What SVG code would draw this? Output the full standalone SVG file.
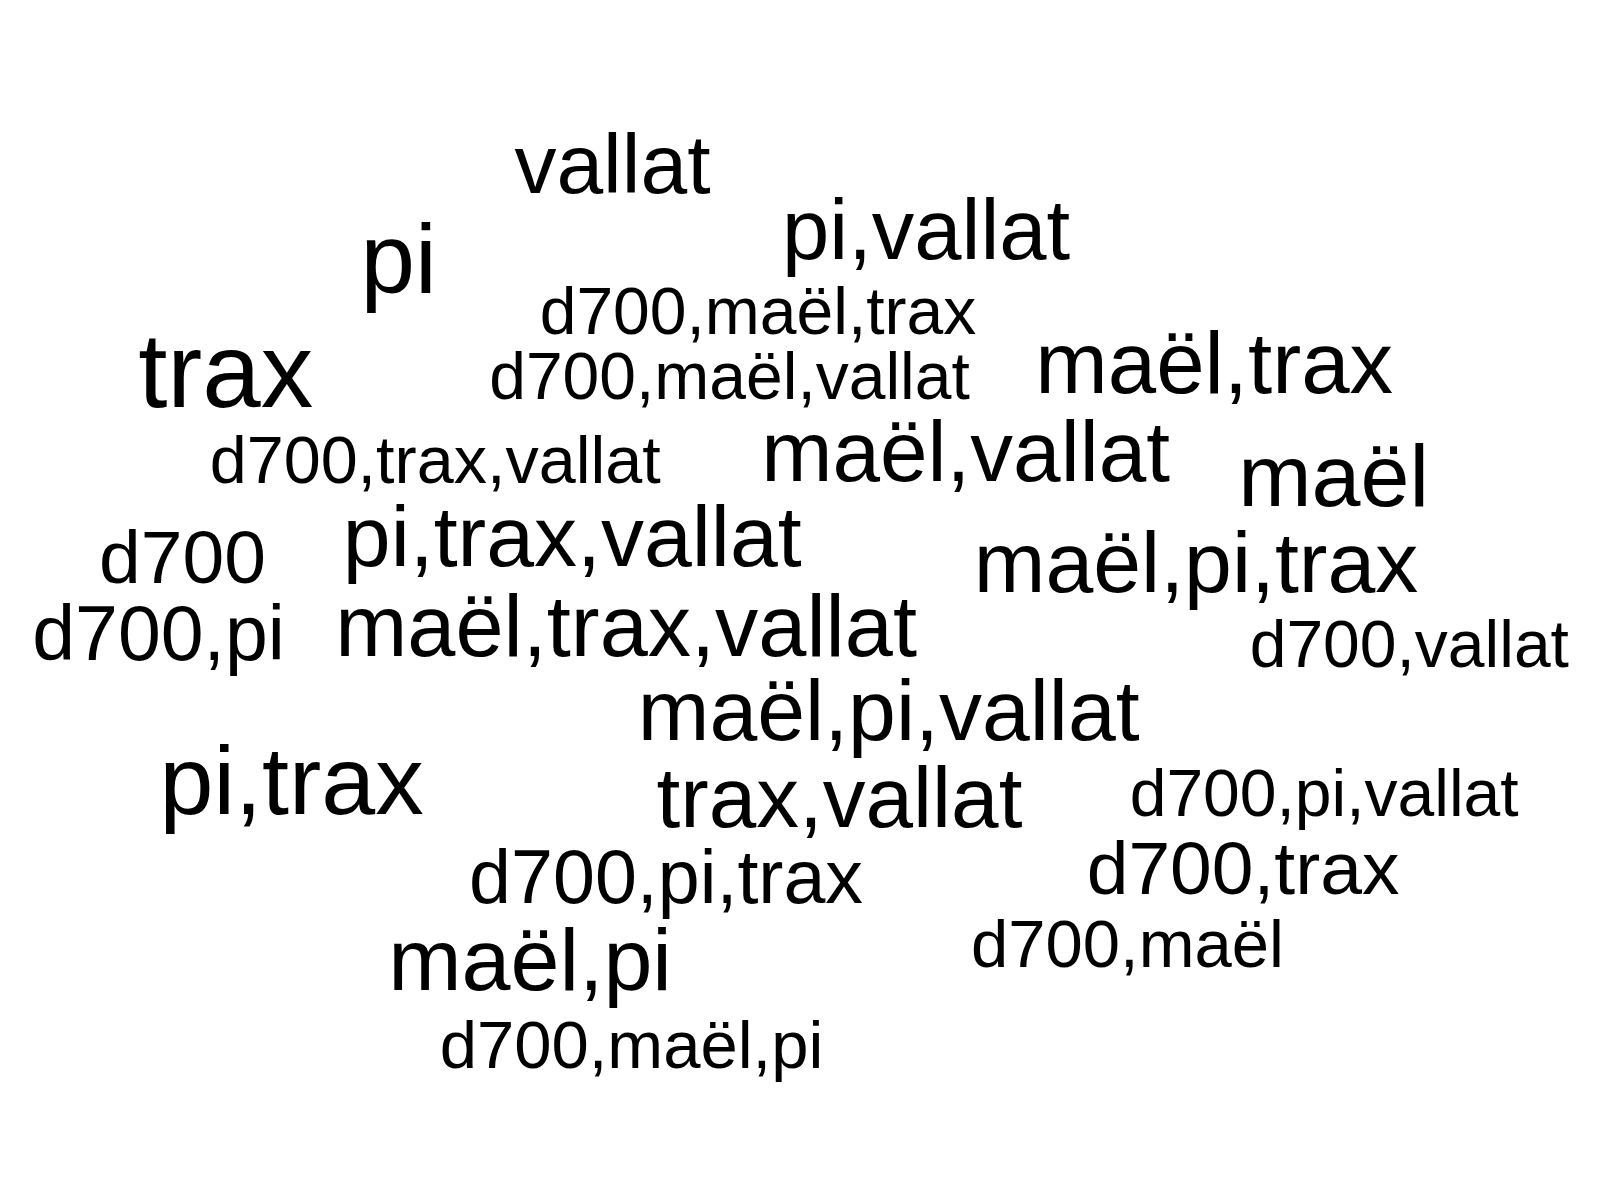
<svg xmlns="http://www.w3.org/2000/svg" width="1600" height="1200" viewBox="0 0 1600 1200">
<style>
text { font-family: "Liberation Sans", Arial, Helvetica, sans-serif; fill: #000000; }
</style>
<rect x="0" y="0" width="1600" height="1200" fill="#ffffff"/>
<g id="words">
<text id="w-vallat" x="514.4" y="192.5" font-size="84">vallat</text>
<text id="w-pi" x="360.5" y="292.5" font-size="98">pi</text>
<text id="w-pi-vallat" x="782" y="258.5" font-size="85">pi,vallat</text>
<text id="w-d700-mael-trax" x="539.7" y="333.5" font-size="66">d700,maël,trax</text>
<text id="w-trax" x="138.2" y="407" font-size="105">trax</text>
<text id="w-d700-mael-vallat" x="489.2" y="399" font-size="66">d700,maël,vallat</text>
<text id="w-mael-trax" x="1035.3" y="393" font-size="87">maël,trax</text>
<text id="w-d700-trax-vallat" x="209.7" y="483.3" font-size="66.5">d700,trax,vallat</text>
<text id="w-mael-vallat" x="761.3" y="481" font-size="85.5">maël,vallat</text>
<text id="w-mael" x="1238.2" y="506" font-size="88">maël</text>
<text id="w-d700" x="99" y="583" font-size="75">d700</text>
<text id="w-pi-trax-vallat" x="342.8" y="565.5" font-size="86">pi,trax,vallat</text>
<text id="w-mael-pi-trax" x="973.8" y="591.5" font-size="86">maël,pi,trax</text>
<text id="w-d700-pi" x="32.3" y="660" font-size="77">d700,pi</text>
<text id="w-mael-trax-vallat" x="335.3" y="655.5" font-size="86.5">maël,trax,vallat</text>
<text id="w-d700-vallat" x="1249.7" y="667" font-size="66">d700,vallat</text>
<text id="w-mael-pi-vallat" x="637.8" y="740" font-size="86">maël,pi,vallat</text>
<text id="w-pi-trax" x="159.6" y="814" font-size="97">pi,trax</text>
<text id="w-trax-vallat" x="656.5" y="827" font-size="85.5">trax,vallat</text>
<text id="w-d700-pi-vallat" x="1129.7" y="816" font-size="66">d700,pi,vallat</text>
<text id="w-d700-pi-trax" x="469.1" y="902.7" font-size="75.4">d700,pi,trax</text>
<text id="w-d700-trax" x="1086.7" y="894" font-size="75">d700,trax</text>
<text id="w-mael-pi" x="388.2" y="989.5" font-size="88">maël,pi</text>
<text id="w-d700-mael" x="971" y="966.7" font-size="67">d700,maël</text>
<text id="w-d700-mael-pi" x="439.7" y="1067.5" font-size="67">d700,maël,pi</text>
</g>
</svg>
